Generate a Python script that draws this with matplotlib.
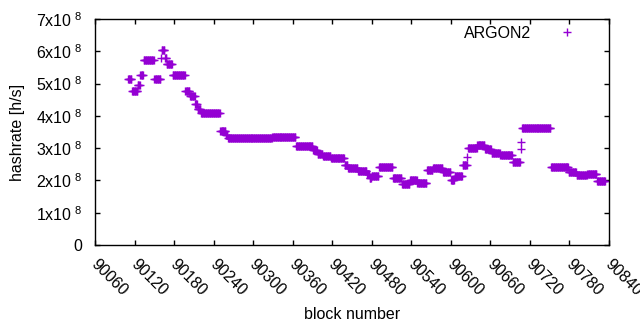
import numpy as np
import matplotlib
matplotlib.use("Agg")
import matplotlib.pyplot as plt
from matplotlib.transforms import ScaledTranslation

plt.rcParams['font.family'] = ['Liberation Sans', 'DejaVu Sans']
plt.rcParams['mathtext.fontset'] = 'custom'
plt.rcParams['mathtext.rm'] = 'Liberation Sans'
plt.rcParams['mathtext.default'] = 'regular'

# Runs of constant hashrate: first block of each run and its value (x1e8 h/s)
run_start = [90110, 90116, 90125, 90129, 90134, 90150, 90160, 90161, 90166, 90169,
             90178, 90197, 90204, 90212, 90216, 90221, 90250, 90259, 90262, 90329,
             90365, 90391, 90398, 90406, 90418, 90439, 90444, 90459, 90473, 90477,
             90480, 90491, 90512, 90526, 90538, 90549, 90564, 90573, 90588, 90600,
             90606, 90618, 90625, 90626, 90640, 90652, 90662, 90675, 90694, 90706,
             90707, 90708, 90752, 90779, 90791, 90807, 90822]
run_value = [5.13, 4.78, 4.95, 5.26, 5.72, 5.13, 5.78, 6.03, 5.78, 5.60,
             5.26, 4.76, 4.60, 4.37, 4.22, 4.08, 3.52, 3.40, 3.30, 3.36,
             3.08, 2.93, 2.83, 2.76, 2.71, 2.48, 2.37, 2.28, 2.21, 2.08,
             2.14, 2.41, 2.07, 1.89, 2.00, 1.91, 2.32, 2.40, 2.25, 2.00,
             2.14, 2.49, 2.73, 3.00, 3.11, 2.97, 2.85, 2.80, 2.58, 2.96,
             3.18, 3.62, 2.41, 2.25, 2.17, 2.19, 1.98]
last_block = 90834

x_ticks = list(range(90060, 90841, 60))
y_ticks = [0, 1e8, 2e8, 3e8, 4e8, 5e8, 6e8, 7e8]
y_ticklabels = ['0'] + [r'$\mathregular{%dx10^{\ 8}}$' % i for i in range(1, 8)]

lengths = np.diff(run_start + [last_block + 1])
blocks = np.arange(run_start[0], last_block + 1)
hashrate = np.repeat(np.array(run_value) * 1e8, lengths)

fig = plt.figure(figsize=(6.4, 3.3), dpi=100)
ax = fig.add_axes([95/640, 85/330, 514/640, 226/330])
ax.plot(blocks, hashrate, linestyle='none', marker='+', ms=6, mew=1.0,
        color='#9400D3', label='ARGON2')

ax.set_xlim(90060, 90840)
ax.set_ylim(0, 7e8)
ax.set_xticks(x_ticks)
ax.set_xticklabels([str(t) for t in x_ticks], rotation=-45, ha='left', va='top',
                   rotation_mode='anchor')
ax.set_yticks(y_ticks)
ax.set_yticklabels(y_ticklabels)
ax.tick_params(direction='in', length=3.5, width=1, top=True, right=True,
               labelsize=11.5, color='black')
ax.tick_params(axis='x', pad=8)
ax.tick_params(axis='y', pad=9)
shift = ScaledTranslation(4/100, 0, fig.dpi_scale_trans)
for lab in ax.get_xticklabels():
    lab.set_transform(lab.get_transform() + shift)
for s in ax.spines.values():
    s.set_linewidth(1)
ax.set_xlabel('block number', fontsize=11.5, labelpad=6)
ax.set_ylabel('hashrate [h/s]', fontsize=11.5, labelpad=8)

leg = ax.legend(loc='upper right', bbox_to_anchor=(0.957, 0.969), frameon=False,
                markerfirst=False, fontsize=11.5, handlelength=2.5,
                handletextpad=1.0, borderaxespad=0, borderpad=0)

fig.savefig('out.png', dpi=100)
